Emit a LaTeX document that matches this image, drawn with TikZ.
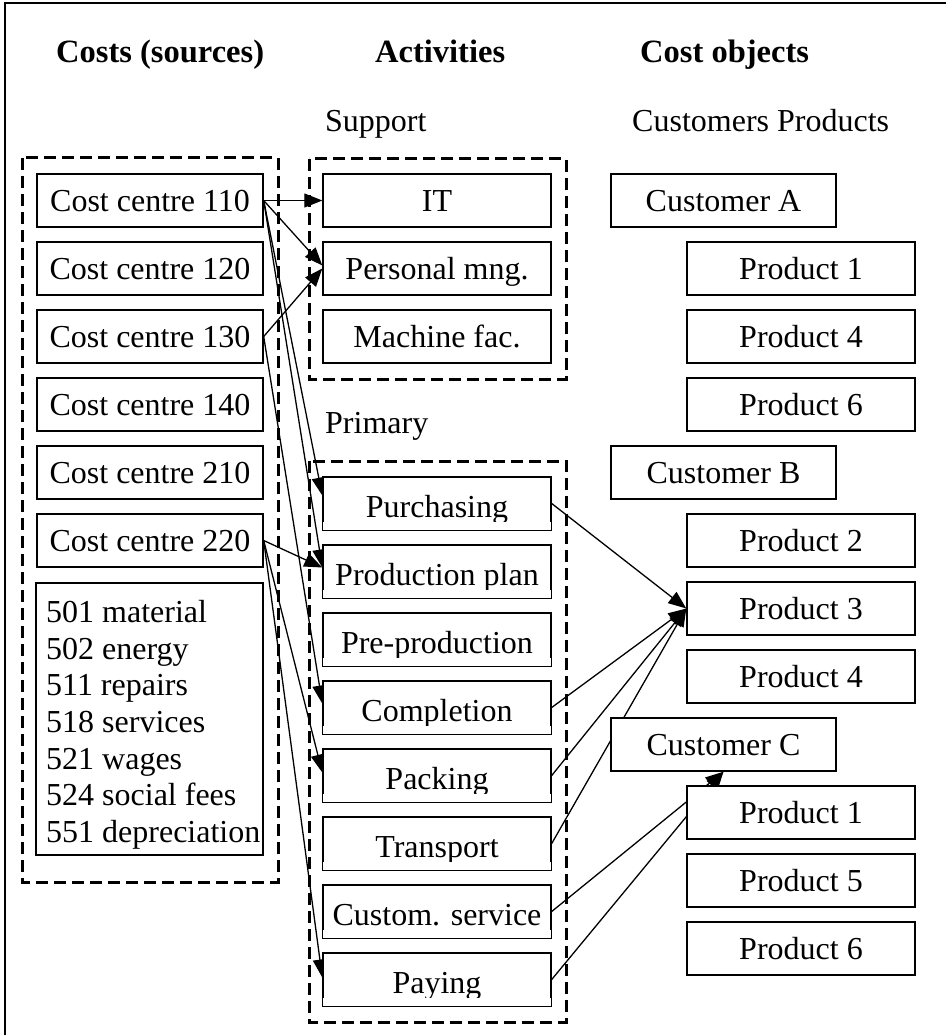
\documentclass[tikz,border=0pt]{standalone}
\usepackage{fontspec}
\setmainfont{Liberation Serif}
\usetikzlibrary{arrows.meta,calc}
\pgfdeclarelayer{bg}
\pgfsetlayers{bg,main}
\begin{document}
\begin{tikzpicture}[x=1pt,y=-1pt,
  box/.style={draw, line width=1.4pt, fill=white, inner sep=0pt, minimum height=53pt,
    text height=22pt, text depth=0pt, font=\fontsize{32}{38}\selectfont},
  ccbox/.style={box, minimum width=226pt},
  actbox/.style={box, minimum width=228pt},
  primbox/.style={actbox, text height=27pt},
  custbox/.style={box, minimum width=225pt},
  prodbox/.style={box, minimum width=228pt},
  group/.style={draw, line width=3pt, dash pattern=on 12pt off 6pt},
  conn/.style={line width=1.3pt, -{Triangle[length=18pt,width=14pt]}},
  head/.style={font=\bfseries\fontsize{32.5}{38}\selectfont, anchor=base west, inner sep=0pt},
  lab/.style={font=\fontsize{32}{38}\selectfont, anchor=base west, inner sep=0pt}
]
\useasboundingbox (0,0) rectangle (946,1035);
\draw[line width=1.5pt] (5,1035) -- (5,3) -- (946,3);

% headers
\node[head] (h1) at (56,63) {Costs (sources)};
\node[head] (h2) at (375,63) {Activities};
\node[head] (h3) at (640,63) {Cost objects};
\node[lab] (sup) at (325,132) {Support};
\node[lab] (cp) at (632,132) {Customers Products};
\node[lab] (pri) at (325,433) {Primary};

% cost centres
\node[ccbox] (c110) at (150,200.5) {Cost centre 110};
\node[ccbox] (c120) at (150,268.5) {Cost centre 120};
\node[ccbox] (c130) at (150,336.5) {Cost centre 130};
\node[ccbox] (c140) at (150,404.5) {Cost centre 140};
\node[ccbox] (c210) at (150,472.5) {Cost centre 210};
\node[ccbox] (c220) at (150,540.5) {Cost centre 220};
\node[box, minimum width=227pt, minimum height=272pt] (mat) at (149.5,719) {};
\node[lab, anchor=north west, align=left, font=\fontsize{32}{36.7}\selectfont] (mattext) at (46,600)
  {501 material\\502 energy\\511 repairs\\518 services\\521 wages\\524 social fees\\551 depreciation};

% support activities
\node[actbox] (it) at (437,200.5) {IT};
\node[actbox] (pm) at (437,268.5) {Personal mng.};
\node[actbox] (mf) at (437,336.5) {Machine fac.};

% primary activities
\node[primbox] (pur) at (437,503.5) {Purchasing};
\node[primbox] (pp) at (437,571.5) {Production plan};
\node[primbox] (pre) at (437,639.5) {Pre-production};
\node[primbox] (com) at (437,707.5) {Completion};
\node[primbox] (pac) at (437,775.5) {Packing};
\node[primbox] (tra) at (437,843.5) {Transport};
\node[primbox] (cs) at (437,911.5) {Custom. service};
\node[primbox] (pay) at (437,979.5) {Paying};
\foreach \n in {pur,pp,pre,com,pac,tra,cs,pay}{
  \fill[white] ($(\n.south west)+(1,-1)$) rectangle ($(\n.south east)+(-1,-9)$);
}

% cost objects
\node[custbox] (ca) at (723.5,200.5) {Customer A};
\node[prodbox] (a1) at (801,268.5) {Product 1};
\node[prodbox] (a4) at (801,336.5) {Product 4};
\node[prodbox] (a6) at (801,404.5) {Product 6};
\node[custbox] (cb) at (723.5,472.5) {Customer B};
\node[prodbox] (b2) at (801,540.5) {Product 2};
\node[prodbox] (b3) at (801,608.5) {Product 3};
\node[prodbox] (b4) at (801,676.5) {Product 4};
\node[custbox] (cc) at (723.5,744.5) {Customer C};
\node[prodbox] (c1) at (801,812.5) {Product 1};
\node[prodbox] (c5) at (801,880.5) {Product 5};
\node[prodbox] (c6) at (801,948.5) {Product 6};

\begin{pgfonlayer}{bg}
  \draw[group] (22,158) rectangle (278,882);
  \draw[group] (309,159) rectangle (566,379);
  \draw[group] (309,461) rectangle (566,1022);
  % costs -> activities
  \draw[conn] (c110.east) -- (it.west);
  \draw[conn] (c110.east) -- ([yshift=3pt]pm.west);
  \draw[conn] (c110.east) -- ([yshift=8pt]pur.west);
  \draw[conn] (c110.east) -- ([yshift=4pt]pp.west);
  \draw[conn] (c130.east) -- (pm.west);
  \draw[conn] (c130.east) -- ([yshift=4pt]com.west);
  \draw[conn] (c220.east) -- ([yshift=4pt]pp.west);
  \draw[conn] (c220.east) -- ([yshift=3pt]pac.west);
  \draw[conn] (c220.east) -- ([yshift=2pt]pay.west);
  % activities -> cost objects
  \draw[conn] (pur.east) -- (b3.west);
  \draw[conn] (com.east) -- (b3.west);
  \draw[conn] (pac.east) -- (b3.west);
  \draw[conn] (tra.east) -- (b3.west);
  \draw[conn] (cs.east) -- (cc.south);
  \draw[conn] (pay.east) -- (cc.south);
\end{pgfonlayer}
\end{tikzpicture}
\end{document}
